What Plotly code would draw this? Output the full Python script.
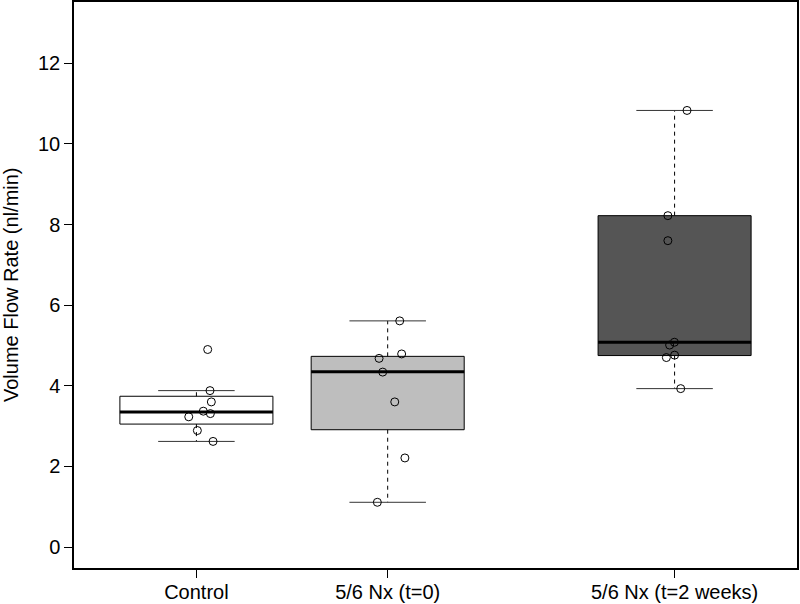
import plotly.graph_objects as go

# ---- data ----
groups = ["Control", "5/6 Nx (t=0)", "5/6 Nx (t=2 weeks)"]
group_pos = [1, 2, 3.5]

control_values = [4.90, 3.88, 3.60, 3.37, 3.31, 3.23, 2.89, 2.62]
control_jitter = [0.059, 0.071, 0.078, 0.036, 0.073, -0.040, 0.005, 0.087]

nx0_values = [5.61, 4.79, 4.68, 4.34, 3.60, 2.21, 1.11]
nx0_jitter = [0.063, 0.073, -0.045, -0.026, 0.037, 0.090, -0.054]

nx2_values = [10.83, 8.22, 7.60, 5.08, 5.01, 4.76, 4.70, 3.93]
nx2_jitter = [0.065, -0.035, -0.035, -0.001, -0.026, 0.0, -0.043, 0.032]

box_q1 = [3.05, 2.91, 4.75]
box_median = [3.35, 4.35, 5.08]
box_q3 = [3.74, 4.73, 8.22]
whisker_low = [2.62, 1.11, 3.93]
whisker_high = [3.88, 5.61, 10.83]

box_colors = ["#FFFFFF", "#BEBEBE", "#555555"]
y_ticks = [0, 2, 4, 6, 8, 10, 12]
y_title = "Volume Flow Rate (nl/min)"

values = [control_values, nx0_values, nx2_values]
jitters = [control_jitter, nx0_jitter, nx2_jitter]

fig = go.Figure()
half = 0.4
cap = 0.2
for i, p in enumerate(group_pos):
    # box
    fig.add_trace(go.Scatter(
        x=[p - half, p + half, p + half, p - half, p - half],
        y=[box_q1[i], box_q1[i], box_q3[i], box_q3[i], box_q1[i]],
        mode="lines", fill="toself", fillcolor=box_colors[i],
        line=dict(color="#000000", width=1), hoverinfo="skip", showlegend=False))
    # median
    fig.add_trace(go.Scatter(
        x=[p - half, p + half], y=[box_median[i], box_median[i]],
        mode="lines", line=dict(color="#000000", width=3),
        hoverinfo="skip", showlegend=False))
    # whiskers (dashed)
    for a, b in [(box_q3[i], whisker_high[i]), (box_q1[i], whisker_low[i])]:
        fig.add_trace(go.Scatter(
            x=[p, p], y=[a, b], mode="lines",
            line=dict(color="#000000", width=1, dash="4px,4px"),
            hoverinfo="skip", showlegend=False))
    # caps
    for v in [whisker_high[i], whisker_low[i]]:
        fig.add_trace(go.Scatter(
            x=[p - cap, p + cap], y=[v, v], mode="lines",
            line=dict(color="#333333", width=1),
            hoverinfo="skip", showlegend=False))

# points
for i, p in enumerate(group_pos):
    fig.add_trace(go.Scatter(
        x=[p + j for j in jitters[i]], y=values[i], mode="markers",
        marker=dict(symbol="circle-open", size=8, color="#000000",
                    line=dict(width=1, color="#000000")),
        showlegend=False, name=groups[i]))

font = dict(family="Liberation Sans, Arial, sans-serif", size=20, color="#000000")
fig.update_layout(
    width=800, height=604,
    margin=dict(l=74, r=3, t=2, b=36, autoexpand=False),
    paper_bgcolor="white", plot_bgcolor="white",
    font=font,
    showlegend=False,
)
fig.update_xaxes(
    range=[0.36, 4.14], tickvals=group_pos, ticktext=groups,
    ticks="outside", ticklen=8, tickcolor="#000000", tickwidth=1,
    showline=True, linecolor="#000000", linewidth=1.5, mirror=True,
    showgrid=False, zeroline=False, tickfont=font, automargin=False,
    ticklabelstandoff=-3,
)
fig.update_yaxes(
    range=[-0.52, 13.52], tickvals=y_ticks, ticktext=[str(t) for t in y_ticks],
    ticks="outside", ticklen=8, tickcolor="#000000", tickwidth=1,
    showline=True, linecolor="#000000", linewidth=1.5, mirror=True,
    showgrid=False, zeroline=False, tickfont=font, automargin=False,
)
fig.add_annotation(
    text=y_title, xref="paper", yref="paper", x=0, y=0.5,
    xanchor="center", yanchor="middle", xshift=-63, textangle=-90,
    showarrow=False, font=font,
)
fig.write_html(
    "out.html",
    config={"displayModeBar": False},
    post_script="document.body.style.margin='0px';document.body.style.overflow='hidden';",
)
